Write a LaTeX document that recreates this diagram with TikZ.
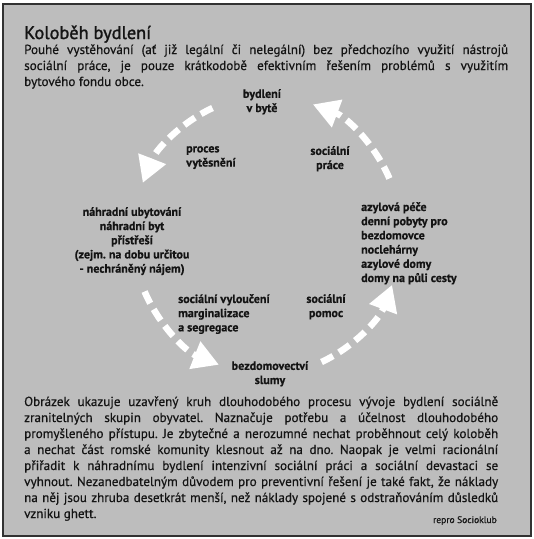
\documentclass[tikz,border=0pt]{standalone}
\usepackage{fontspec}
\setmainfont{PT Sans}[FakeBold=0.5]
\newfontfamily\titlefont{PT Sans}[FakeBold=1.4]
\usetikzlibrary{arrows.meta}
\definecolor{bg}{RGB}{189,189,189}
\definecolor{ink}{RGB}{20,20,20}
\definecolor{framec}{RGB}{50,50,50}
\newcommand{\jl}[1]{\makebox[484pt][s]{#1}}
\newcommand{\jm}[1]{\makebox[474pt][s]{#1}}
\frenchspacing
\begin{document}
\begin{tikzpicture}[x=1pt,y=1pt,
  body/.style={anchor=base west, inner sep=0pt, text=ink, font=\fontsize{13.1}{16}\selectfont},
  lbl/.style={inner sep=0pt, text=ink, font=\bfseries\fontsize{12}{14.2}\selectfont},
  cyc/.style={white, line width=6.5pt, dash pattern=on 13pt off 7pt,
    -{Triangle[width=28pt,length=26pt]}}
]
\useasboundingbox (0,0) rectangle (534,-539);
\fill[white] (0,0) rectangle (534,-539);
\draw[framec, line width=2pt, fill=bg] (3,-4) rectangle (531,-536);

% title and intro
\node[anchor=base west, inner sep=0pt, text=ink, font=\titlefont\fontsize{18.3}{21}\selectfont] (title) at (24,-39) {Koloběh bydlení};
\node[body] (p1a) at (24,-54) {\jl{Pouhé vystěhování (ať již legální či nelegální) bez předchozího využití nástrojů}};
\node[body] (p1b) at (24,-70) {\jl{sociální práce, je pouze krátkodobě efektivním řešením problémů s využitím}};
\node[body] (p1c) at (24,-86) {bytového fondu obce.};

% cycle
\coordinate (ctr) at (267,-235);
\draw[cyc] ([shift={(114:134 and 139)}]ctr) arc[start angle=114, end angle=158, x radius=134, y radius=139];
\draw[cyc] ([shift={(24:134 and 139)}]ctr) arc[start angle=24, end angle=70, x radius=134, y radius=139];
\draw[cyc] ([shift={(204:134 and 139)}]ctr) arc[start angle=204, end angle=249, x radius=134, y radius=139];
\draw[cyc] ([shift={(294:134 and 139)}]ctr) arc[start angle=294, end angle=339, x radius=134, y radius=139];

% labels
\node[lbl, anchor=north, align=center] (home) at (262,-89) {bydlení\\v bytě};
\node[lbl, anchor=north west, align=left] (push) at (186,-146) {proces\\vytěsnění};
\node[lbl, anchor=north, align=center] (swork) at (330,-146) {sociální\\práce};
\node[lbl, anchor=north, align=center] (subst) at (132,-207) {náhradní ubytování\\náhradní byt\\přístřeší\\(zejm. na dobu určitou\\- nechráněný nájem)};
\node[lbl, anchor=north west, align=left] (asyl) at (361,-202) {azylová péče\\denní pobyty pro\\bezdomovce\\noclehárny\\azylové domy\\domy na půli cesty};
\node[lbl, anchor=north west, align=left] (excl) at (178,-294) {sociální vyloučení\\marginalizace\\a segregace};
\node[lbl, anchor=north, align=center] (shelp) at (326,-294) {sociální\\pomoc};
\node[lbl, anchor=north, align=center] (homeless) at (270,-361) {bezdomovectví\\slumy};

% closing text
\node[body] (p2a) at (24,-406) {\jm{Obrázek ukazuje uzavřený kruh dlouhodobého procesu vývoje bydlení sociálně}};
\node[body] (p2b) at (24,-422) {\jm{zranitelných skupin obyvatel. Naznačuje potřebu a účelnost dlouhodobého}};
\node[body] (p2c) at (24,-438) {\jm{promyšleného přístupu. Je zbytečné a nerozumné nechat proběhnout celý koloběh}};
\node[body] (p2d) at (24,-454) {\jm{a nechat část romské komunity klesnout až na dno. Naopak je velmi racionální}};
\node[body] (p2e) at (24,-470) {\jm{přiřadit k náhradnímu bydlení intenzivní sociální práci a sociální devastaci se}};
\node[body] (p2f) at (24,-486) {\jm{vyhnout. Nezanedbatelným důvodem pro preventivní řešení je také fakt, že náklady}};
\node[body] (p2g) at (24,-502) {\jm{na něj jsou zhruba desetkrát menší, než náklady spojené s odstraňováním důsledků}};
\node[body] (p2h) at (24,-518) {vzniku ghett.};
\node[anchor=base east, inner sep=0pt, text=ink, font=\fontsize{9.5}{11}\selectfont] (src) at (497,-523) {repro Socioklub};
\end{tikzpicture}
\end{document}
